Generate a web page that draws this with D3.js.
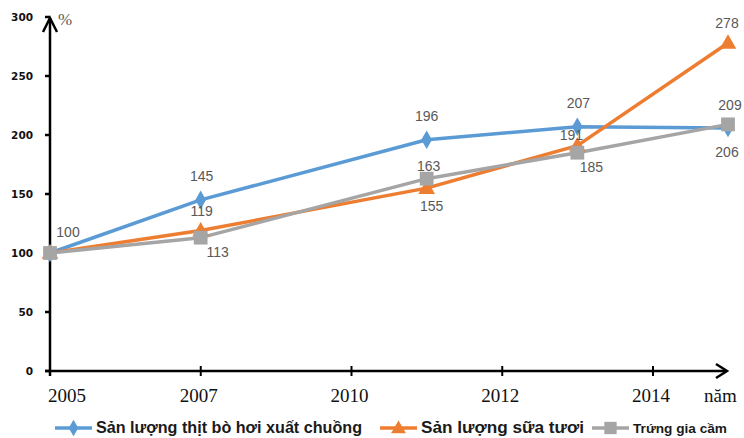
<!DOCTYPE html>
<html>
<head>
<meta charset="utf-8">
<script src="https://cdn.jsdelivr.net/npm/d3@7"></script>
<style>
  body { margin: 0; background: #fff; }
  svg { display: block; }
  .ytick { font-family: "DejaVu Sans", Verdana, sans-serif; font-weight: bold; font-size: 10.5px; fill: #111; }
  .xtick { font-family: "Liberation Serif", "Times New Roman", serif; font-size: 19px; fill: #111; }
  .dlabel { font-family: "Liberation Sans", Arial, sans-serif; font-size: 14px; fill: #595959; }
  .legend-text { font-family: "Liberation Sans", Arial, sans-serif; font-weight: bold; fill: #1a1a1a; }
</style>
</head>
<body>
<svg id="chart" width="744" height="438"></svg>
<script>
// data
var years = [2005, 2007, 2010, 2012, 2014];
var yTicks = [0, 50, 100, 150, 200, 250, 300];
var beef = [100, 145, 196, 207, 206];
var milk = [100, 119, 155, 191, 278];
var eggs = [100, 113, 163, 185, 209];
var names = ["Sản lượng thịt bò hơi xuất chuồng", "Sản lượng sữa tươi", "Trứng gia cầm"];

// where each value label sits relative to its point (null = no label)
var beefLabelPos = [[18, -21], [1, -24], [0, -24], [1, -24], [-1, 24]];
var milkLabelPos = [null, [1, -20], [5, 18], [-6, -11], [-1, -20]];
var eggsLabelPos = [null, [17, 14], [2, -13], [14, 14], [2, -19]];

var series = [
	{name: names[0], values: beef, labels: beefLabelPos, color: "#5B9BD5", symbol: "diamond"},
	{name: names[1], values: milk, labels: milkLabelPos, color: "#ED7D31", symbol: "triangle"},
	{name: names[2], values: eggs, labels: eggsLabelPos, color: "#A5A5A5", symbol: "square"}
];

var svg = d3.select("#chart");

// data points sit on a real year scale, tick labels are spaced evenly
var x = d3.scaleLinear().domain([2005, 2014]).range([50, 728]);
var xCat = d3.scalePoint().domain(years).range([50, 653]);
var y = d3.scaleLinear().domain([0, 300]).range([371, 17]);

function drawMarker(g, symbol, color, cx, cy, big) {
	var s = big ? 1 : 0.8;
	if (symbol == "diamond") {
		g.append("path")
			.attr("d", d3.symbol().type(d3.symbolDiamond).size(100 * s)())
			.attr("transform", "translate(" + cx + "," + cy + ")")
			.attr("fill", color);
	} else if (symbol == "triangle") {
		g.append("path")
			.attr("d", d3.symbol().type(d3.symbolTriangle).size(120 * s)())
			.attr("transform", "translate(" + cx + "," + (cy + 1) + ")")
			.attr("fill", color);
	} else {
		g.append("path")
			.attr("d", d3.symbol().type(d3.symbolSquare).size(190 * s)())
			.attr("transform", "translate(" + cx + "," + cy + ")")
			.attr("fill", color);
	}
}

// y axis
var yAxis = svg.append("g");
yAxis.append("line")
	.attr("x1", 50).attr("x2", 50)
	.attr("y1", y(0) + 5).attr("y2", y(300) + 1)
	.attr("stroke", "#000").attr("stroke-width", 2.5);
yAxis.append("path")
	.attr("d", "M43,32 L50,18 L57,32")
	.attr("fill", "none").attr("stroke", "#000").attr("stroke-width", 2.5);
yAxis.selectAll(".yt")
	.data(yTicks).enter()
	.append("line")
	.attr("x1", 45).attr("x2", 50)
	.attr("y1", function(d) { return y(d); })
	.attr("y2", function(d) { return y(d); })
	.attr("stroke", "#000").attr("stroke-width", 2.5);
yAxis.selectAll(".ytick")
	.data(yTicks).enter()
	.append("text")
	.attr("class", "ytick")
	.attr("x", 33)
	.attr("y", function(d) { return y(d) + 4; })
	.attr("text-anchor", "end")
	.text(function(d) { return d; });
svg.append("text")
	.attr("x", 58).attr("y", 25)
	.attr("font-family", "Liberation Serif, serif")
	.attr("font-size", 17)
	.attr("fill", "#595959")
	.text("%");

// x axis
var xAxis = svg.append("g");
xAxis.append("line")
	.attr("x1", 45).attr("x2", 726)
	.attr("y1", y(0)).attr("y2", y(0))
	.attr("stroke", "#000").attr("stroke-width", 2.5);
xAxis.append("path")
	.attr("d", "M716,364 L727,371 L716,378")
	.attr("fill", "none").attr("stroke", "#000").attr("stroke-width", 2.5);
xAxis.selectAll(".xt")
	.data(years).enter()
	.append("line")
	.attr("x1", function(d) { return xCat(d); })
	.attr("x2", function(d) { return xCat(d); })
	.attr("y1", y(0) - 5).attr("y2", y(0) + 5)
	.attr("stroke", "#000").attr("stroke-width", 2);
xAxis.selectAll(".xtick")
	.data(years).enter()
	.append("text")
	.attr("class", "xtick")
	.attr("x", function(d, i) { return i == 0 ? xCat(d) + 17 : xCat(d) - 2; })
	.attr("y", 402)
	.attr("text-anchor", "middle")
	.text(function(d) { return d; });
svg.append("text")
	.attr("class", "xtick")
	.attr("x", 704).attr("y", 402)
	.text("năm");

// lines
var line = d3.line()
	.x(function(d, i) { return x(years[i]); })
	.y(function(d) { return y(d); });

series.forEach(function(s) {
	svg.append("path")
		.datum(s.values)
		.attr("d", line)
		.attr("fill", "none")
		.attr("stroke", s.color)
		.attr("stroke-width", 3.5)
		.attr("stroke-linejoin", "round");
});
series.forEach(function(s) {
	var g = svg.append("g");
	s.values.forEach(function(v, i) {
		drawMarker(g, s.symbol, s.color, x(years[i]), y(v), true);
	});
});
series.forEach(function(s) {
	s.values.forEach(function(v, i) {
		var p = s.labels[i];
		if (!p) return;
		svg.append("text")
			.attr("class", "dlabel")
			.attr("x", x(years[i]) + p[0])
			.attr("y", y(v) + p[1] + 5)
			.attr("text-anchor", "middle")
			.text(v);
	});
});

// legend
var legendItems = [
	{x: 55, size: 16, width: 266},
	{x: 380, size: 16.5, width: 163},
	{x: 592, size: 13, width: 94}
];
var legend = svg.append("g");
series.forEach(function(s, i) {
	var lx = legendItems[i].x;
	legend.append("line")
		.attr("x1", lx).attr("x2", lx + 37)
		.attr("y1", 428).attr("y2", 428)
		.attr("stroke", s.color).attr("stroke-width", 3.5);
	drawMarker(legend, s.symbol, s.color, lx + 18.5, 428, false);
	legend.append("text")
		.attr("class", "legend-text")
		.attr("x", lx + 41)
		.attr("y", 433)
		.attr("font-size", legendItems[i].size)
		.attr("textLength", legendItems[i].width)
		.attr("lengthAdjust", "spacingAndGlyphs")
		.text(s.name);
});
</script>
</body>
</html>
